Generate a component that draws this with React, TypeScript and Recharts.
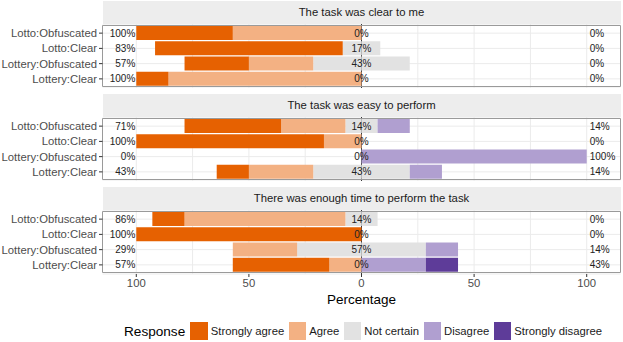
import React from 'react';
import {
  BarChart,
  Bar,
  XAxis,
  YAxis,
  CartesianGrid,
  ReferenceDot,
  ReferenceArea,
  Label,
} from 'recharts';

// ---------- data ----------
const categories = ['Lotto:Obfuscated', 'Lotto:Clear', 'Lottery:Obfuscated', 'Lottery:Clear'];
const facetTitles = [
  'The task was clear to me',
  'The task was easy to perform',
  'There was enough time to perform the task',
];
const responses = ['Strongly agree', 'Agree', 'Not certain', 'Disagree', 'Strongly disagree'];
const responseColors = ['#E66101', '#F3B183', '#E2E2E2', '#B09FD0', '#5E3C99'];

// Facet 1: The task was clear to me (percent per category)
const clearStronglyAgree = [42.86, 83.33, 28.57, 14.29];
const clearAgree = [57.14, 0, 28.57, 85.71];
const clearNotCertain = [0, 16.67, 42.86, 0];
const clearDisagree = [0, 0, 0, 0];
const clearStronglyDisagree = [0, 0, 0, 0];

// Facet 2: The task was easy to perform
const easyStronglyAgree = [42.86, 83.33, 0, 14.29];
const easyAgree = [28.57, 16.67, 0, 28.57];
const easyNotCertain = [14.29, 0, 0, 42.86];
const easyDisagree = [14.29, 0, 100, 14.29];
const easyStronglyDisagree = [0, 0, 0, 0];

// Facet 3: There was enough time to perform the task
const timeStronglyAgree = [14.29, 100, 0, 42.86];
const timeAgree = [71.43, 0, 28.57, 14.29];
const timeNotCertain = [14.29, 0, 57.14, 0];
const timeDisagree = [0, 0, 14.29, 28.57];
const timeStronglyDisagree = [0, 0, 0, 14.29];

const xTicks = [-100, -50, 0, 50, 100];
const gridValues = [-100, -75, -50, -25, 0, 25, 50, 75, 100];
const xDomain = [-115, 115];

// ---------- helpers ----------
type Row = {
  cat: string;
  nNeg: number;
  nPos: number;
  a: number;
  d: number;
  sa: number;
  sd: number;
  low: string;
  mid: string;
  high: string;
};

function buildRows(sa: number[], a: number[], n: number[], d: number[], sd: number[]): Row[] {
  return categories.map((cat, i) => ({
    cat,
    nNeg: -n[i] / 2,
    nPos: n[i] / 2,
    a: -a[i],
    d: d[i],
    sa: -sa[i],
    sd: sd[i],
    low: `${Math.round(sa[i] + a[i])}%`,
    mid: `${Math.round(n[i])}%`,
    high: `${Math.round(d[i] + sd[i])}%`,
  }));
}

const facets = [
  buildRows(clearStronglyAgree, clearAgree, clearNotCertain, clearDisagree, clearStronglyDisagree),
  buildRows(easyStronglyAgree, easyAgree, easyNotCertain, easyDisagree, easyStronglyDisagree),
  buildRows(timeStronglyAgree, timeAgree, timeNotCertain, timeDisagree, timeStronglyDisagree),
];

const FONT = '"Liberation Sans", Arial, Helvetica, sans-serif';
const PLOT_LEFT = 102.5;
const PLOT_RIGHT_MARGIN = 2.5;
const PLOT_H = 64;
const STRIP_H = 22.5;
const stripTops = [1, 94, 187];

function Panel({ rows, title, top, showAxis }: { rows: Row[]; title: string; top: number; showAxis: boolean }) {
  const height = PLOT_H + (showAxis ? 40 : 0);
  return (
    <>
      <div
        style={{
          position: 'absolute',
          left: PLOT_LEFT,
          top,
          width: 623 - PLOT_LEFT - PLOT_RIGHT_MARGIN,
          height: STRIP_H,
          background: '#EDEDED',
          color: '#1A1A1A',
          fontFamily: FONT,
          fontSize: 11.3,
          lineHeight: `${STRIP_H}px`,
          textAlign: 'center',
        }}
      >
        {title}
      </div>
      <div style={{ position: 'absolute', left: 0, top: top + STRIP_H }}>
        <BarChart
          width={623}
          height={height}
          data={rows}
          layout="vertical"
          stackOffset="sign"
          barCategoryGap="4%"
          margin={{ top: 0, right: PLOT_RIGHT_MARGIN, bottom: showAxis ? 20 : 0, left: 0 }}
          style={{ fontFamily: FONT }}
        >
          <CartesianGrid stroke="#EBEBEB" strokeWidth={1} verticalValues={gridValues} />
          <CartesianGrid stroke="#3A3A3A" strokeWidth={1} horizontal={false} verticalValues={[0]} />
          <XAxis
            type="number"
            domain={xDomain}
            allowDataOverflow
            hide={!showAxis}
            ticks={xTicks}
            interval={0}
            tickFormatter={(v: number) => String(Math.abs(v))}
            height={20}
            axisLine={false}
            tickSize={3}
            tickMargin={2}
            tickLine={{ stroke: '#333333' }}
            tick={{ fontSize: 11.3, fill: '#4D4D4D', fontFamily: FONT }}
          >
            {showAxis && (
              <Label value="Percentage" position="bottom" offset={0} fontSize={13.5} fill="#000000" fontFamily={FONT} />
            )}
          </XAxis>
          <YAxis
            type="category"
            dataKey="cat"
            width={PLOT_LEFT}
            padding={{ top: 1.5, bottom: 1.5 }}
            axisLine={false}
            tickSize={3.5}
            tickMargin={2}
            tickLine={{ stroke: '#333333' }}
            tick={{ fontSize: 11.3, fill: '#4D4D4D', fontFamily: FONT }}
            interval={0}
          />
          <Bar dataKey="nNeg" stackId="s" fill={responseColors[2]} isAnimationActive={false} />
          <Bar dataKey="nPos" stackId="s" fill={responseColors[2]} isAnimationActive={false} />
          <Bar dataKey="a" stackId="s" fill={responseColors[1]} isAnimationActive={false} />
          <Bar dataKey="d" stackId="s" fill={responseColors[3]} isAnimationActive={false} />
          <Bar dataKey="sa" stackId="s" fill={responseColors[0]} isAnimationActive={false} />
          <Bar dataKey="sd" stackId="s" fill={responseColors[4]} isAnimationActive={false} />
          <ReferenceArea x1={xDomain[0]} x2={xDomain[1]} fill="none" stroke="#9A9A9A" strokeWidth={1} ifOverflow="visible" />
          {rows.map((r) => (
            <ReferenceDot
              key={`l-${r.cat}`}
              x={-100}
              y={r.cat}
              r={1}
              fill="none"
              stroke="none"
              label={<Label value={r.low} position="left" offset={0} fontSize={10} fill="#222222" fontFamily={FONT} />}
            />
          ))}
          {rows.map((r) => (
            <ReferenceDot
              key={`m-${r.cat}`}
              x={0}
              y={r.cat}
              r={1}
              fill="none"
              stroke="none"
              label={<Label value={r.mid} position="center" fontSize={10} fill="#222222" fontFamily={FONT} />}
            />
          ))}
          {rows.map((r) => (
            <ReferenceDot
              key={`h-${r.cat}`}
              x={100}
              y={r.cat}
              r={1}
              fill="none"
              stroke="none"
              label={<Label value={r.high} position="right" offset={2} fontSize={10} fill="#222222" fontFamily={FONT} />}
            />
          ))}
        </BarChart>
      </div>
    </>
  );
}

function LegendBox() {
  return (
    <div
      style={{
        position: 'absolute',
        left: 124,
        top: 322,
        height: 18,
        display: 'flex',
        alignItems: 'center',
        fontFamily: FONT,
        whiteSpace: 'nowrap',
      }}
    >
      <span style={{ fontSize: 13.6, color: '#000', marginRight: 5 }}>Response</span>
      {responses.map((name, i) => (
        <span key={name} style={{ display: 'flex', alignItems: 'center', marginRight: 4.5 }}>
          <span
            style={{
              display: 'inline-block',
              width: 17.5,
              height: 17.5,
              background: responseColors[i],
              marginRight: 3,
            }}
          />
          <span style={{ fontSize: 11.3, color: '#1A1A1A' }}>{name}</span>
        </span>
      ))}
    </div>
  );
}

export default function App() {
  return (
    <div
      style={{
        position: 'absolute',
        left: 0,
        top: 0,
        width: 623,
        height: 342,
        background: '#FFFFFF',
        overflow: 'hidden',
      }}
    >
      {facets.map((rows, i) => (
        <Panel key={facetTitles[i]} rows={rows} title={facetTitles[i]} top={stripTops[i]} showAxis={i === 2} />
      ))}
      <LegendBox />
    </div>
  );
}
